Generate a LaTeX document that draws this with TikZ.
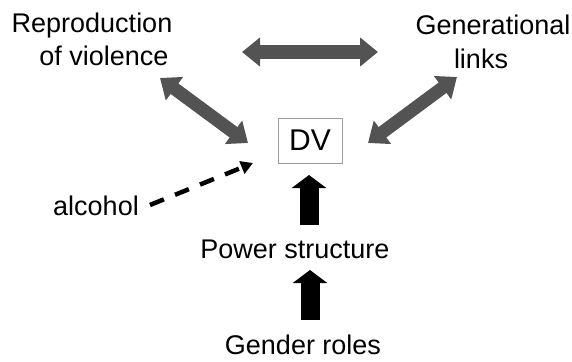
\documentclass[tikz,border=0pt]{standalone}
\usepackage{fontspec}
\setmainfont{Liberation Sans}
\usetikzlibrary{arrows.meta}
\definecolor{arrgray}{HTML}{535353}
\definecolor{boxgray}{HTML}{9A9A9A}
\begin{document}
\begin{tikzpicture}[x=1pt,y=-1pt,
  lbl/.style={inner sep=0pt, anchor=base, font=\fontsize{27}{32}\selectfont},
  dvbox/.style={draw=boxgray, line width=1pt, minimum width=64pt, minimum height=45pt, inner sep=0pt, font=\fontsize{30}{34}\selectfont},
  fatlink/.style={color=arrgray, line width=13pt,
    {Triangle[width=28pt,length=18pt]}-{Triangle[width=28pt,length=18pt]}},
  fatup/.style={color=black, line width=19pt, -{Triangle[width=34pt,length=13pt]}},
  dashlink/.style={color=black, line width=4.5pt, dash pattern=on 15pt off 12pt,
    -{Triangle[width=13pt,length=12pt]}}
]
\useasboundingbox (0,0) rectangle (572,361);
% texts
\node[lbl] (rep) at (92,33) {Reproduction};
\node[lbl] (vio) at (104,66) {of violence};
\node[lbl] (gen) at (493,35) {Generational};
\node[lbl] (links) at (481,68) {links};
\node[lbl] (alc) at (96,215) {alcohol};
\node[lbl] (pow) at (295,258) {Power structure};
\node[lbl] (roles) at (303,354) {Gender roles};
\node[dvbox] (dv) at (310,140.5) {DV};
% connector ends
\coordinate (topL) at (242,52);
\coordinate (topR) at (378,52);
\coordinate (vioEnd) at (160,78);
\coordinate (dvL) at (248,143);
\coordinate (linksEnd) at (457,77);
\coordinate (dvR) at (368,143);
\coordinate (alcEnd) at (150,205);
\coordinate (dvA) at (253,163);
\coordinate (powTop) at (309,225);
\coordinate (dvB) at (309,175);
\coordinate (rolesTop) at (310,320);
\coordinate (powB) at (310,270);
% connectors
\draw[fatlink] (topL) -- (topR);
\draw[fatlink] (vioEnd) -- (dvL);
\draw[fatlink] (linksEnd) -- (dvR);
\draw[dashlink] (alcEnd) -- (dvA);
\draw[fatup] (powTop) -- (dvB);
\draw[fatup] (rolesTop) -- (powB);
\end{tikzpicture}
\end{document}
